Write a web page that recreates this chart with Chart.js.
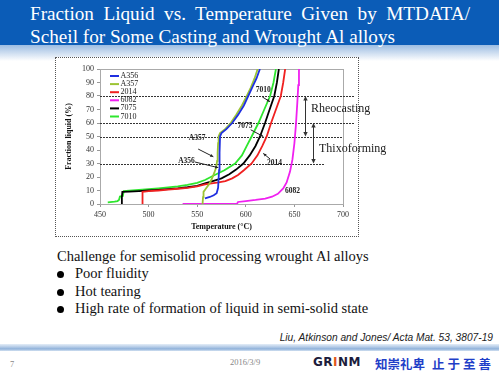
<!DOCTYPE html>
<html>
<head>
<meta charset="utf-8">
<script src="https://cdn.jsdelivr.net/npm/chart.js@4"></script>
<style>
  body { margin: 0; width: 499px; height: 374px; overflow: hidden; background: #fff; position: relative; font-family: "Liberation Serif", serif; }
  .abs { position: absolute; white-space: nowrap; }
  #band { left: 0; top: 0; width: 499px; height: 45px; background: #0b5cb7; }
  #fade { left: 0; top: 45px; width: 499px; height: 16px; background: linear-gradient(to bottom, #9dbde2, #ffffff); }
  .title { color: #fff; font-family: "Liberation Serif", serif; font-size: 19.2px; line-height: 22px; }
  #t1 { left: 30px; top: 3px; width: 440px; text-align: justify; text-align-last: justify; white-space: normal; }
  #t2 { left: 30px; top: 26px; }
  #frame { left: 55px; top: 57px; width: 302px; height: 178px; border: 1px dotted #555; background: #fff; }
  #wrap { left: 56px; top: 58px; width: 345px; height: 177px; }
  .body { font-family: "Liberation Serif", serif; font-size: 14.5px; color: #111; }
  .dot { width: 7px; height: 7px; border-radius: 50%; background: #000; }
  #cite { right: 6px; top: 332px; font-family: "Liberation Sans", sans-serif; font-style: italic; font-size: 10.2px; color: #222; }
  #rule { left: 0; top: 344px; width: 499px; height: 7px; background: linear-gradient(to bottom, #e4edf7 0%, #b7cde8 40%, #8fb1da 70%, #d3e1f1 100%); }
  .foot { font-family: "Liberation Serif", serif; font-size: 8.5px; color: #888; }
</style>
</head>
<body>
<div class="abs" id="band"></div>
<div class="abs" id="fade"></div>
<div class="abs title" id="t1">Fraction Liquid vs. Temperature Given by MTDATA/</div>
<div class="abs title" id="t2">Scheil for Some Casting and Wrought Al alloys</div>

<div class="abs" id="frame"></div>
<div class="abs" id="wrap"><canvas id="fracChart" width="345" height="177"></canvas></div>

<div class="abs body" style="left:57px; top:248px;">Challenge for semisolid processing wrought Al alloys</div>
<div class="abs dot" style="left:57px; top:271px;"></div>
<div class="abs body" style="left:75px; top:265px;">Poor fluidity</div>
<div class="abs dot" style="left:57px; top:289px;"></div>
<div class="abs body" style="left:75px; top:283px;">Hot tearing</div>
<div class="abs dot" style="left:57px; top:306px;"></div>
<div class="abs body" style="left:75px; top:300px;">High rate of formation of liquid in semi-solid state</div>

<div class="abs" id="cite">Liu, Atkinson and Jones/ Acta Mat. 53, 3807-19</div>
<div class="abs" id="rule"></div>

<div class="abs foot" style="left:10px; top:359px;">7</div>
<div class="abs foot" style="left:230px; top:357px;">2016/3/9</div>
<div class="abs" style="left:313px; top:355px; font-family:'DejaVu Sans',sans-serif; font-weight:bold; font-size:12px; color:#1c1c3c; letter-spacing:0.5px;">GR<span style="color:#e0561c;">I</span>NM</div>
<div class="abs" style="left:375px; top:354px; font-family:'Noto Sans CJK SC',sans-serif; font-weight:bold; font-size:12.5px; color:#1f3fc8;">知崇礼卑</div>
<div class="abs" style="left:432px; top:354px; font-family:'Noto Sans CJK SC',sans-serif; font-weight:bold; font-size:12.5px; color:#1f3fc8; letter-spacing:3px;">止于至善</div>

<script>
// alloy names and line colours
const alloys = ['A356', 'A357', '2014', '6082', '7075', '7010'];
const colors = ['#1f2fe0', '#9cc434', '#f02020', '#f020f0', '#000000', '#2ee62e'];

// temperature (C) / fraction liquid (%)
const tA356 = [558, 563, 567, 570, 571.5, 572.5, 573, 573.5, 575, 580, 586, 592, 598, 602.5, 607, 611, 614.5];
const fA356 = [4.2, 5.2, 6.5, 8, 12, 25, 38, 50, 52.5, 55.5, 60, 66, 73, 80, 87, 93, 100];

const tA357 = [555.5, 556, 556.5, 559, 562, 565, 567.5, 569.5, 570.5, 571, 571.5, 572, 573.5, 578, 584.5, 590, 596, 601, 605, 609, 612.2];
const fA357 = [0, 5, 9, 11.5, 14.5, 18.5, 23, 27, 32, 38, 45, 50, 52.5, 55, 60, 66, 73, 80, 86, 93, 100];

const t2014 = [493.5, 493.5, 494, 500, 510, 520, 530, 540, 550, 558, 565, 572, 579, 586, 592, 598, 606, 612, 617, 621.5, 626, 631, 636, 638.5, 640.5];
const f2014 = [0, 5, 9, 9.5, 10, 10.6, 11.3, 12, 13, 14.5, 15.3, 16, 17, 19, 21.5, 25, 30, 36, 43, 50, 60, 70, 80, 90, 100];

const t6082 = [535, 560, 580, 591, 592, 600, 610, 620, 627, 633, 638.5, 642, 645.5, 648, 650, 651.5, 653, 654, 654.7];
const f6082 = [0, 0, 0, 0.2, 1.5, 2.2, 3, 4, 5.4, 7.5, 11.5, 16, 24, 33, 45, 58, 75, 88, 100];

const t7075 = [472.5, 472.5, 473, 480, 490, 500, 510, 520, 530, 540, 550, 558, 566, 575, 583, 590, 597.5, 604, 610, 614.6, 619.8, 624.5, 629.3, 632, 634];
const f7075 = [0, 5, 9, 9.2, 9.6, 10, 10.5, 11, 11.6, 12.4, 13.4, 15.3, 17, 19, 22, 25.5, 30, 36, 43, 50, 60, 70, 80, 90, 100];

const t7010 = [458, 465, 468, 469.5, 470.5, 473.5, 474.5, 480, 490, 500, 510, 520, 530, 540, 550, 558, 568, 578, 589, 596, 601, 606, 613, 619, 625, 628.5, 631];
const f7010 = [1.2, 1.8, 2.2, 3, 5.5, 6, 9.5, 9.9, 10.4, 11, 11.6, 12.3, 13.1, 14.1, 15.6, 17.8, 21.5, 25, 30, 36, 43, 50, 60, 70, 80, 90, 100];

const temps = [tA356, tA357, t2014, t6082, t7075, t7010];
const fracs = [fA356, fA357, f2014, f6082, f7075, f7010];

// dashed reference levels and how far right each one runs (C)
const refLevels = [80, 60, 50, 30];
const refEnds = [712, 712, 700, 681.5];

// curve labels: text position and arrow (from -> to), in data units
const noteText = ['A357', 'A356', '7010', '7075', '2014', '6082'];
const noteAt = [[550, 49], [539, 32], [618, 84.4], [599.2, 58], [629.5, 30.1], [648, 9.6]];
const noteArrow = [[[551, 40.7], [566.6, 35]], [[547.7, 31.1], [571.7, 26.9]], [[617, 79.3], [624.9, 75.8]],
                   [[605, 55], [618, 50]], [[625, 33.3], [618, 37.5]], null];

// process windows
const windowText = ['Rheocasting', 'Thixoforming'];
const windowT = [661, 669];
const windowLow = [50, 30];
const windowHigh = [80, 60];
const windowTextAt = [[667, 70.4], [675.3, 40.7]];

const serif = 'Liberation Serif';

function arrowHead(ctx, x1, y1, x2, y2, size) {
    const a = Math.atan2(y2 - y1, x2 - x1);
    ctx.beginPath();
    ctx.moveTo(x2, y2);
    ctx.lineTo(x2 - size * Math.cos(a - 0.45), y2 - size * Math.sin(a - 0.45));
    ctx.lineTo(x2 - size * Math.cos(a + 0.45), y2 - size * Math.sin(a + 0.45));
    ctx.closePath();
    ctx.fill();
}

const overlay = {
    id: 'overlay',
    beforeDatasetsDraw(chart) {
        const ctx = chart.ctx, x = chart.scales.x, y = chart.scales.y, area = chart.chartArea;
        ctx.save();
        // plot box
        ctx.strokeStyle = '#aaa';
        ctx.lineWidth = 1;
        ctx.strokeRect(area.left + 0.5, area.top + 0.5, area.right - area.left, area.bottom - area.top);
        // dashed levels
        ctx.strokeStyle = '#333';
        ctx.setLineDash([2, 1]);
        refLevels.forEach((lv, i) => {
            const py = Math.round(y.getPixelForValue(lv)) + 0.5;
            ctx.beginPath();
            ctx.moveTo(area.left, py);
            ctx.lineTo(x.getPixelForValue(refEnds[i]), py);
            ctx.stroke();
        });
        ctx.restore();
    },
    afterDraw(chart) {
        const ctx = chart.ctx, x = chart.scales.x, y = chart.scales.y, area = chart.chartArea;
        ctx.save();
        // legend
        ctx.font = '8px ' + serif;
        ctx.textBaseline = 'middle';
        chart.data.datasets.forEach((ds, i) => {
            const py = area.top + 7 + i * 8.1;
            ctx.strokeStyle = ds.borderColor;
            ctx.lineWidth = 2;
            ctx.beginPath();
            ctx.moveTo(area.left + 10, py);
            ctx.lineTo(area.left + 19, py);
            ctx.stroke();
            ctx.fillStyle = '#222';
            ctx.fillText(ds.label, area.left + 20.5, py);
        });
        // curve labels
        ctx.font = 'bold 7.5px ' + serif;
        ctx.textAlign = 'center';
        ctx.fillStyle = '#222';
        ctx.strokeStyle = '#222';
        ctx.lineWidth = 1;
        noteText.forEach((txt, i) => {
            ctx.fillText(txt, x.getPixelForValue(noteAt[i][0]), y.getPixelForValue(noteAt[i][1]));
            const ar = noteArrow[i];
            if (!ar) return;
            const x1 = x.getPixelForValue(ar[0][0]), y1 = y.getPixelForValue(ar[0][1]);
            const x2 = x.getPixelForValue(ar[1][0]), y2 = y.getPixelForValue(ar[1][1]);
            ctx.beginPath();
            ctx.moveTo(x1, y1);
            ctx.lineTo(x2, y2);
            ctx.stroke();
            arrowHead(ctx, x1, y1, x2, y2, 3.5);
        });
        // process windows
        ctx.strokeStyle = '#333';
        ctx.fillStyle = '#333';
        windowT.forEach((t, i) => {
            const px = Math.round(x.getPixelForValue(t)) + 0.5;
            const yTop = y.getPixelForValue(windowHigh[i]), yBot = y.getPixelForValue(windowLow[i]);
            ctx.beginPath();
            ctx.moveTo(px, yTop + 2);
            ctx.lineTo(px, yBot - 2);
            ctx.stroke();
            arrowHead(ctx, px, yBot - 6, px, yBot, 5);
            arrowHead(ctx, px, yTop + 6, px, yTop, 5);
        });
        ctx.font = '12px ' + serif;
        ctx.textAlign = 'left';
        ctx.fillStyle = '#222';
        windowText.forEach((txt, i) => {
            ctx.fillText(txt, x.getPixelForValue(windowTextAt[i][0]), y.getPixelForValue(windowTextAt[i][1]));
        });
        ctx.restore();
    }
};

document.addEventListener('DOMContentLoaded', function () {
    const ctx = document.getElementById('fracChart').getContext('2d');
    new Chart(ctx, {
        type: 'line',
        data: {
            datasets: alloys.map((name, i) => ({
                label: name,
                data: temps[i].map((t, j) => ({ x: t, y: fracs[i][j] })),
                borderColor: colors[i],
                borderWidth: 1.8,
                pointRadius: 0,
                tension: 0,
                fill: false
            }))
        },
        options: {
            responsive: false,
            animation: false,
            layout: { padding: { top: 11, right: 58, left: 0, bottom: 0 } },
            plugins: { legend: { display: false }, tooltip: { enabled: false } },
            scales: {
                x: {
                    type: 'linear',
                    min: 450,
                    max: 700,
                    ticks: { stepSize: 50, font: { family: serif, size: 8 }, color: '#333', padding: 3, maxRotation: 0 },
                    grid: { drawOnChartArea: false, tickLength: 3, color: '#999' },
                    border: { color: '#999' },
                    title: { display: true, text: 'Temperature (°C)', font: { family: serif, size: 8, weight: 'bold' }, color: '#111', padding: { top: 1, bottom: 3 } },
                    afterFit: s => { s.height = 31; }
                },
                y: {
                    min: 0,
                    max: 100,
                    ticks: { stepSize: 10, font: { family: serif, size: 8 }, color: '#333', padding: 3 },
                    grid: { drawOnChartArea: false, tickLength: 3, color: '#999' },
                    border: { color: '#999' },
                    title: { display: true, text: 'Fraction liquid (%)', font: { family: serif, size: 8, weight: 'bold' }, color: '#111', padding: { top: 8, bottom: 0 } },
                    afterFit: s => { s.width = 44; }
                }
            }
        },
        plugins: [overlay]
    });
});
</script>
</body>
</html>
